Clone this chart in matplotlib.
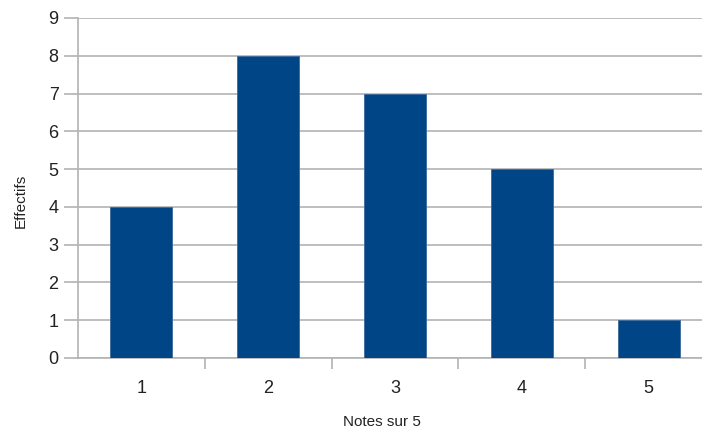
import matplotlib
matplotlib.use("Agg")
import matplotlib.pyplot as plt

# notes sur 5 et effectifs
notes = [1, 2, 3, 4, 5]
effectifs = [4, 8, 7, 5, 1]
yticks = list(range(0, 10))

plt.rcParams['font.family'] = ['Liberation Sans', 'DejaVu Sans']

W, H = 702, 432
fig = plt.figure(figsize=(W / 100, H / 100), dpi=100)
# axes: left 78px, right 712px (cut off by the figure), top 18px, bottom 358px
ax = fig.add_axes([78 / W, 1 - 358 / H, (712 - 78) / W, (358 - 18) / H])

grid_col = '#b3b3b3'
ax.bar(notes, effectifs, width=0.49, color='#004586', edgecolor='#3a6a9e',
       linewidth=0.6, zorder=3)

ax.set_xlim(0.5, 5.5)
ax.set_ylim(0, 9)
ax.set_yticks(yticks)
ax.yaxis.grid(True, color=grid_col, linewidth=1.2, zorder=0)

# category labels in the middle, tick marks on the boundaries
ax.set_xticks(notes)
ax.set_xticklabels([str(n) for n in notes])
ax.tick_params(axis='x', which='major', length=0, pad=16,
               labelsize=13, labelcolor='#222222')
ax.set_xticks([1.5, 2.5, 3.5, 4.5], minor=True)
ax.tick_params(axis='x', which='minor', length=8, width=1.2, color=grid_col)
ax.tick_params(axis='y', length=10, width=1.2, color=grid_col, pad=4,
               labelsize=13, labelcolor='#222222')

for s in ['top', 'right']:
    ax.spines[s].set_visible(False)
for s in ['left', 'bottom']:
    ax.spines[s].set_color(grid_col)
    ax.spines[s].set_linewidth(1.2)

fig.text(382 / W, 1 - 422 / H, 'Notes sur 5', ha='center', va='center',
         fontsize=11, color='#222222')
fig.text(21 / W, 1 - 201 / H, 'Effectifs', ha='center', va='center',
         rotation=90, fontsize=11, color='#222222')

fig.savefig('out.png', dpi=100)
